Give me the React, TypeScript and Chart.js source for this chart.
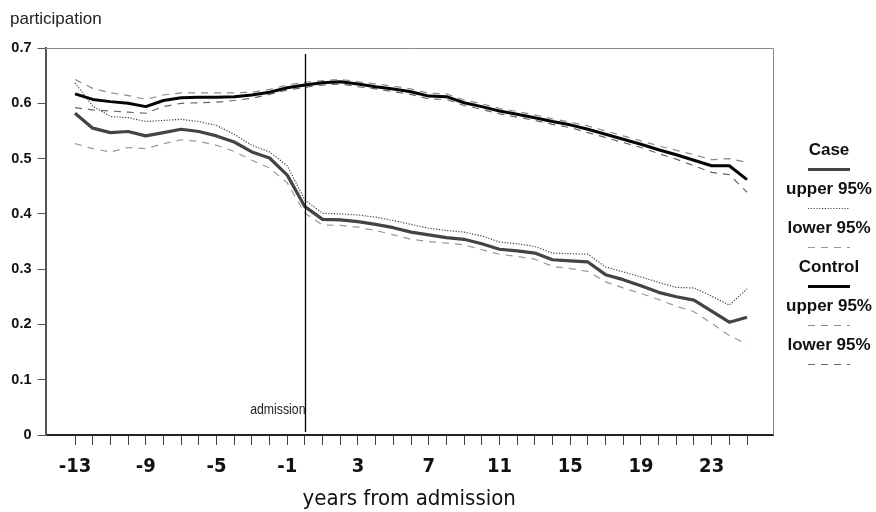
import React, { useEffect, useRef } from "react";
import { Chart, registerables } from "chart.js";

Chart.register(...registerables);

// ---------- data ----------
const years = [
  -13, -12, -11, -10, -9, -8, -7, -6, -5, -4, -3, -2, -1, 0, 1, 2, 3, 4, 5, 6,
  7, 8, 9, 10, 11, 12, 13, 14, 15, 16, 17, 18, 19, 20, 21, 22, 23, 24, 25,
];
const xTickLabels = ["-13", "-9", "-5", "-1", "3", "7", "11", "15", "19", "23"];
const yTicks = [0, 0.1, 0.2, 0.3, 0.4, 0.5, 0.6, 0.7];

const caseMean = [
  0.582, 0.555, 0.547, 0.549, 0.541, 0.547, 0.553, 0.549, 0.541, 0.53, 0.512,
  0.501, 0.47, 0.413, 0.39, 0.389, 0.386, 0.381, 0.375, 0.367, 0.362, 0.357,
  0.354, 0.346, 0.336, 0.333, 0.329, 0.317, 0.315, 0.313, 0.29, 0.281, 0.27,
  0.258, 0.25, 0.244, 0.224, 0.204, 0.213,
];
const caseUpper = [
  0.637, 0.595, 0.576, 0.574, 0.567, 0.569, 0.571, 0.567, 0.56, 0.544, 0.524,
  0.512, 0.487, 0.425, 0.401, 0.4, 0.398, 0.394, 0.388, 0.381, 0.374, 0.37,
  0.367, 0.36, 0.349, 0.346, 0.341, 0.329, 0.328, 0.327, 0.304, 0.295, 0.286,
  0.276, 0.267, 0.266, 0.251, 0.235, 0.264,
];
const caseLower = [
  0.527, 0.518, 0.512, 0.52, 0.518, 0.527, 0.534, 0.531, 0.524, 0.513, 0.497,
  0.483, 0.456, 0.401, 0.38, 0.379, 0.376, 0.37, 0.362, 0.354, 0.35, 0.347,
  0.344, 0.335, 0.327, 0.323, 0.318, 0.305, 0.301, 0.296, 0.277, 0.266, 0.256,
  0.245, 0.233, 0.223, 0.202, 0.18, 0.164,
];
const controlMean = [
  0.617, 0.607, 0.603, 0.6, 0.594, 0.605, 0.61, 0.611, 0.611, 0.612, 0.615,
  0.62, 0.628, 0.633, 0.637, 0.639, 0.635, 0.63, 0.626, 0.621, 0.613, 0.612,
  0.601, 0.594, 0.586, 0.58, 0.574, 0.567, 0.561, 0.553, 0.544, 0.535, 0.526,
  0.516, 0.507, 0.497, 0.487, 0.487, 0.462,
];
const controlUpper = [
  0.643, 0.627, 0.619, 0.614, 0.607, 0.615, 0.619, 0.619, 0.619, 0.619, 0.62,
  0.625, 0.633, 0.638, 0.641, 0.643, 0.639, 0.635, 0.631, 0.626, 0.618, 0.617,
  0.606, 0.599, 0.591, 0.585, 0.579, 0.572, 0.566, 0.559, 0.55, 0.541, 0.532,
  0.523, 0.515, 0.507, 0.498, 0.5, 0.493,
];
const controlLower = [
  0.592, 0.588, 0.586, 0.584, 0.582, 0.594, 0.6, 0.601, 0.602, 0.605, 0.609,
  0.616, 0.624, 0.629, 0.633, 0.635, 0.63, 0.626, 0.621, 0.616, 0.608, 0.607,
  0.596, 0.589, 0.581, 0.575, 0.569, 0.562, 0.556, 0.547, 0.538, 0.529, 0.52,
  0.509, 0.499, 0.487, 0.475, 0.471, 0.439,
];

const legendLabels = ["Case", "upper 95%", "lower 95%", "Control", "upper 95%", "lower 95%"];

const NARROW = '"Liberation Sans Narrow", "Arial Narrow", "DejaVu Sans Condensed", "Liberation Sans", Arial, sans-serif';
const SANS = '"Liberation Sans", Arial, Helvetica, sans-serif';

const toPoints = (vals: number[]) => years.map((x, i) => ({ x, y: vals[i] }));

function condensedText(ctx: any, text: string, x: number, y: number, sx: number, align: string) {
  ctx.save();
  ctx.translate(x, y);
  ctx.scale(sx, 1);
  ctx.textAlign = align;
  ctx.fillText(text, 0, 0);
  ctx.restore();
}

const decorPlugin = {
  id: "decor",
  afterDraw(chart: any) {
    const { ctx, chartArea } = chart;
    const xs = chart.scales.x;
    const ys = chart.scales.y;
    ctx.save();
    // frame top/right
    ctx.strokeStyle = "#888";
    ctx.lineWidth = 1;
    ctx.beginPath();
    ctx.moveTo(chartArea.left, chartArea.top + 0.5);
    ctx.lineTo(chartArea.right + 0.5, chartArea.top + 0.5);
    ctx.lineTo(chartArea.right + 0.5, chartArea.bottom);
    ctx.stroke();

    // admission line
    const ax = Math.round(xs.getPixelForValue(0)) + 0.5;
    ctx.strokeStyle = "#000";
    ctx.lineWidth = 1.3;
    ctx.beginPath();
    ctx.moveTo(ax, chartArea.top + 6);
    ctx.lineTo(ax, chartArea.bottom - 3);
    ctx.stroke();
    ctx.fillStyle = "#222";
    ctx.font = `15px ${SANS}`;
    ctx.textBaseline = "middle";
    condensedText(ctx, "admission", ax, ys.getPixelForValue(0.045), 0.82, "right");

    // y title
    ctx.font = `17px ${SANS}`;
    condensedText(ctx, "participation", 10, 19, 1.0, "left");

    // legend
    const ds = chart.data.datasets;
    const order = [1, 2, 3, 0, 4, 5];
    const cx = 829;
    order.forEach((di: number, i: number) => {
      const d = ds[di];
      const ty = 150 + i * 39;
      ctx.fillStyle = "#111";
      ctx.font = `bold 17px ${SANS}`;
      ctx.textAlign = "center";
      ctx.textBaseline = "middle";
      ctx.fillText(legendLabels[i], cx, ty);
      const ly = ty + 19.5;
      ctx.strokeStyle = d.borderColor;
      ctx.lineWidth = d.borderWidth;
      ctx.setLineDash(d.borderDash || []);
      ctx.beginPath();
      ctx.moveTo(cx - 21, ly);
      ctx.lineTo(cx + 21, ly);
      ctx.stroke();
      ctx.setLineDash([]);
    });
    ctx.restore();
  },
};

export default function App() {
  const ref = useRef<HTMLCanvasElement | null>(null);
  useEffect(() => {
    if (!ref.current) return;
    const chart = new Chart(ref.current, {
      type: "line",
      data: {
        datasets: [
          { label: "Control", data: toPoints(controlMean), borderColor: "#050505", borderWidth: 3, borderDash: [] },
          { label: "Case", data: toPoints(caseMean), borderColor: "#444", borderWidth: 3.2, borderDash: [] },
          { label: "upper 95%", data: toPoints(caseUpper), borderColor: "#444", borderWidth: 1.2, borderDash: [1.2, 1.6] },
          { label: "lower 95%", data: toPoints(caseLower), borderColor: "#999", borderWidth: 1.2, borderDash: [7, 6] },
          { label: "upper 95%", data: toPoints(controlUpper), borderColor: "#8a8a8a", borderWidth: 1.2, borderDash: [7, 6] },
          { label: "lower 95%", data: toPoints(controlLower), borderColor: "#666", borderWidth: 1.2, borderDash: [7, 6] },
        ] as any,
      },
      options: {
        responsive: false,
        animation: false,
        devicePixelRatio: 1,
        layout: { padding: { left: 0, right: 103, top: 48, bottom: 0 } },
        elements: { point: { radius: 0 }, line: { tension: 0, borderCapStyle: "butt", borderJoinStyle: "round" } },
        plugins: { legend: { display: false }, tooltip: { enabled: false }, title: { display: false } },
        scales: {
          x: {
            type: "linear",
            min: -14.67,
            max: 26.47,
            afterBuildTicks: (s: any) => {
              s.ticks = years.map((v) => ({ value: v }));
            },
            afterFit: (s: any) => {
              s.height = 77;
            },
            grid: { drawOnChartArea: false, drawTicks: true, tickLength: 10, color: "#444", lineWidth: 1 },
            border: { display: true, color: "#222", width: 2 },
            ticks: {
              autoSkip: false,
              maxRotation: 0,
              padding: 10,
              color: "#111",
              font: { family: NARROW, size: 20, weight: "bold" },
              callback: (v: any) => (xTickLabels.includes(String(v)) ? String(v) : ""),
            },
            title: {
              display: true,
              text: "years from admission",
              color: "#111",
              font: { family: NARROW, size: 22 },
              padding: { top: 0, bottom: 0 },
            },
          },
          y: {
            min: 0,
            max: 0.7,
            afterBuildTicks: (s: any) => {
              s.ticks = yTicks.map((v) => ({ value: v }));
            },
            afterFit: (s: any) => {
              s.width = 45.5;
            },
            grid: { drawOnChartArea: false, drawTicks: true, tickLength: 8, color: "#555", lineWidth: 1 },
            border: { display: true, color: "#555", width: 2 },
            ticks: {
              padding: 6,
              color: "#111",
              font: { family: SANS, size: 14.5, weight: "bold" },
              callback: (v: any) => (v === 0 ? "0" : Number(v).toFixed(1)),
            },
          },
        },
      } as any,
      plugins: [decorPlugin],
    });
    return () => chart.destroy();
  }, []);
  return (
    <div style={{ position: "fixed", left: 0, top: 0, width: 876, height: 512, background: "#fff" }}>
      <canvas ref={ref} width={876} height={512} style={{ width: 876, height: 512, display: "block" }} />
    </div>
  );
}
